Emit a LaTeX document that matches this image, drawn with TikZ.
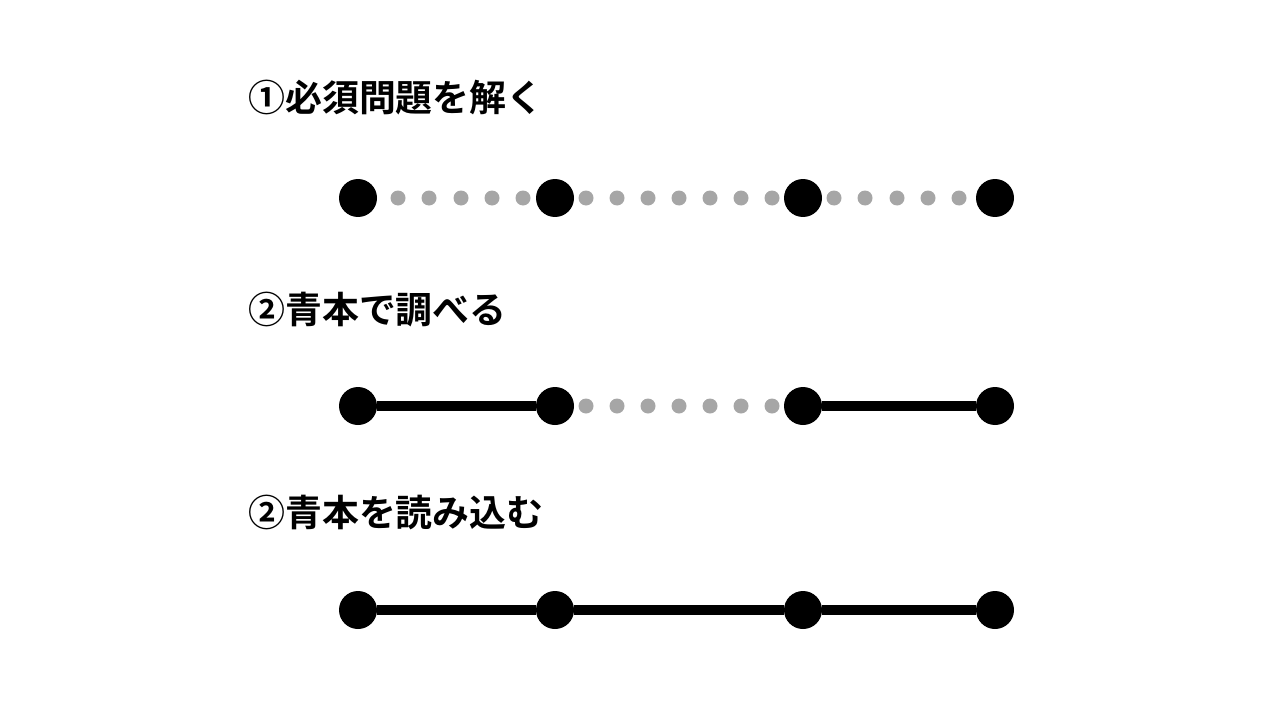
\documentclass[tikz,border=0pt]{standalone}
\usepackage{fontspec}
\newfontfamily\cjk{Noto Sans CJK JP Bold}
\usetikzlibrary{backgrounds}

\begin{document}
\begin{tikzpicture}[x=0.02cm,y=-0.02cm,
            bigdot/.style = {
                circle,
                fill=black,
                inner sep=0pt,
                minimum size=0.76cm
            },
            smalldot/.style = {
                circle,
                fill=black!35,
                inner sep=0pt,
                minimum size=0.3cm
            },
            title/.style = {
                anchor=west,
                inner sep=0pt,
                font=\cjk\fontsize{21}{21}\selectfont
            },
            link/.style = {line width=0.2cm, color=black}
        ]
            \useasboundingbox (0,0) rectangle (1280,720);
            \node[title] (t1) at (248,98) {①必須問題を解く};
            \node[title] (t2) at (248,310) {②青本で調べる};
            \node[title] (t3) at (248,512) {②青本を読み込む};

            % big dots of the three rows
            \foreach \r/\y in {1/198, 2/406, 3/610} {
                \node[bigdot] (a\r) at (358,\y) {};
                \node[bigdot] (b\r) at (555,\y) {};
                \node[bigdot] (c\r) at (803,\y) {};
                \node[bigdot] (d\r) at (995,\y) {};
            }

            % row 1
            \foreach \x in {398,429,461,492,523,586,617,648,679,710,741,772,834,865,897,928,959}
                \node[smalldot] at (\x,198) {};

            % row 2
            \foreach \x in {586,617,648,679,710,741,772}
                \node[smalldot] at (\x,406) {};
            \begin{scope}[on background layer]
            \draw[link] (a2) -- (b2);
            \draw[link] (c2) -- (d2);

            % row 3
            \draw[link] (a3) -- (b3);
            \draw[link] (b3) -- (c3);
            \draw[link] (c3) -- (d3);
            \end{scope}
        \end{tikzpicture}
\end{document}
